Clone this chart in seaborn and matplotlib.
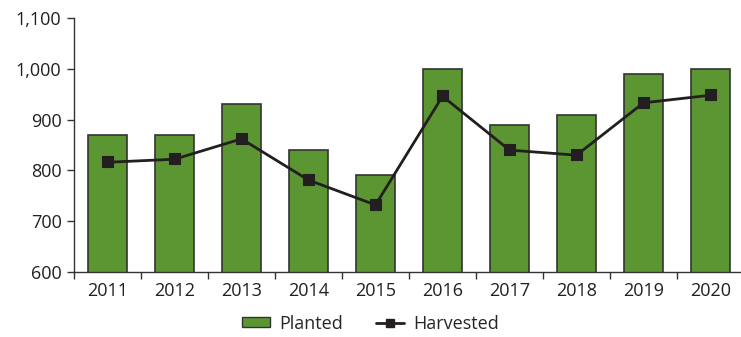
import matplotlib
matplotlib.use("Agg")
import matplotlib.pyplot as plt
import seaborn as sns
import pandas as pd
from matplotlib.patches import Patch
from matplotlib.lines import Line2D
from matplotlib.ticker import FuncFormatter, FixedLocator

years = ["2011", "2012", "2013", "2014", "2015", "2016", "2017", "2018", "2019", "2020"]
planted = [870, 870, 930, 840, 790, 1000, 890, 910, 990, 1000]
harvested = [816, 822, 862, 781, 732, 946, 840, 830, 933, 948]

df = pd.DataFrame({"year": years, "Planted": planted, "Harvested": harvested})

sns.set_style("white")
plt.rcParams["font.family"] = ["Open Sans", "DejaVu Sans"]

fig = plt.figure(figsize=(7.41, 3.37), dpi=100)
ax = fig.add_axes([74 / 741, 65 / 337, 670 / 741, 254 / 337])

green = "#5c9632"
sns.barplot(data=df, x="year", y="Planted", color=green, edgecolor="#333333",
            linewidth=1.2, width=0.59, saturation=1, ax=ax)
sns.pointplot(data=df, x="year", y="Harvested", color="#231f20", markers="s",
              linestyles="-", ax=ax, markersize=7, linewidth=2)

ax.set_ylim(600, 1100)
ax.set_xlim(-0.5, 9.5)
ax.set_yticks(range(600, 1101, 100))
ax.yaxis.set_major_formatter(FuncFormatter(lambda v, p: f"{int(v):,}"))
ax.set_xlabel("")
ax.set_ylabel("")

for s in ["top", "right"]:
    ax.spines[s].set_visible(False)
for s in ["left", "bottom"]:
    ax.spines[s].set_color("#333333")
    ax.spines[s].set_linewidth(1.0)

ax.tick_params(axis="y", which="major", left=True, length=5, width=1, color="#333333",
               labelsize=13, labelcolor="#231f20", pad=4)
ax.tick_params(axis="x", which="major", bottom=False, labelsize=13, labelcolor="#231f20", pad=4)
ax.xaxis.set_minor_locator(FixedLocator([i - 0.5 for i in range(11)]))
ax.tick_params(axis="x", which="minor", bottom=True, length=5, width=1, color="#333333")

handles = [Patch(facecolor=green, edgecolor="#333333", linewidth=1.0),
           Line2D([0], [0], color="#231f20", lw=2, marker="s", markersize=6)]
fig.legend(handles, ["Planted", "Harvested"], loc="lower center", ncol=2,
           bbox_to_anchor=(0.5, -0.035), frameon=False, fontsize=13,
           handlelength=1.55, handleheight=0.45, columnspacing=1.8, handletextpad=0.5)

fig.savefig("out.png", dpi=100)
